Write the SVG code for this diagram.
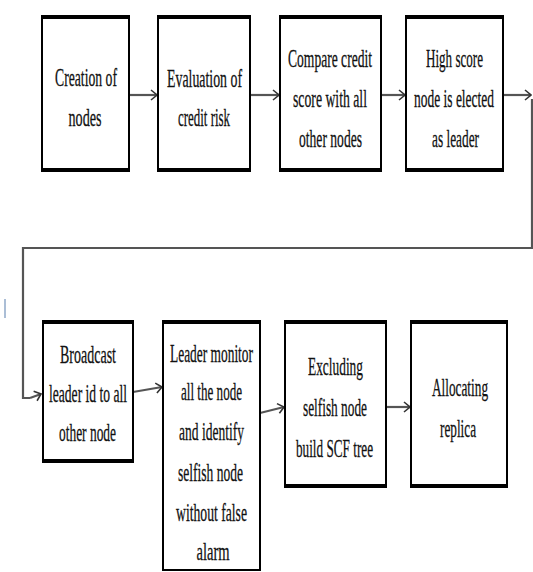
<svg xmlns="http://www.w3.org/2000/svg" width="533" height="572" viewBox="0 0 533 572">
<defs>
<marker id="ah" markerWidth="8" markerHeight="12" refX="7" refY="6" orient="auto" markerUnits="userSpaceOnUse">
<path d="M1,1 L7,6 L1,11" fill="none" stroke="#333" stroke-width="1.6"/>
</marker>
<style>
.box{fill:#fff;stroke:#000;stroke-width:2}
.edge{fill:#000}
.t{font-family:"Liberation Serif","Times New Roman",serif;font-size:26px;fill:#111;text-anchor:middle;stroke:#111;stroke-width:0.3}
.c{fill:none;stroke:#555;stroke-width:2.2}
</style>
</defs>
<rect width="533" height="572" fill="#fff"/>
<line x1="5" y1="299" x2="5" y2="318" stroke="#8fa9c8" stroke-width="1.5"/>
<g id="connectors">
<line class="c" x1="129" y1="95" x2="157" y2="95" marker-end="url(#ah)"/>
<line class="c" x1="250" y1="95" x2="279" y2="95" marker-end="url(#ah)"/>
<line class="c" x1="381" y1="95" x2="405" y2="95" marker-end="url(#ah)"/>
<line class="c" x1="503" y1="95" x2="531" y2="95" marker-end="url(#ah)"/>
<polyline class="c" points="532,99 532,248 23,248 23,398 30,398"/>
<line class="c" x1="30" y1="398" x2="41" y2="394" marker-end="url(#ah)"/>
<line class="c" x1="133" y1="392" x2="162" y2="387" marker-end="url(#ah)"/>
<line class="c" x1="260" y1="413" x2="284" y2="407" marker-end="url(#ah)"/>
<line class="c" x1="386" y1="407" x2="410" y2="407" marker-end="url(#ah)"/>
</g>
<g id="n1">
<rect class="box" x="42" y="17" width="87" height="154"/>
<rect class="edge" x="41" y="15" width="89" height="4"/>
<rect class="edge" x="41" y="168" width="89" height="4"/>
<text class="t" transform="translate(86,86) scale(0.58,1)" textLength="106.9" lengthAdjust="spacingAndGlyphs">Creation of</text>
<text class="t" transform="translate(85,126) scale(0.58,1)" textLength="56.9" lengthAdjust="spacingAndGlyphs">nodes</text>
</g>
<g id="n2">
<rect class="box" x="158" y="17" width="92" height="154"/>
<rect class="edge" x="157" y="15" width="94" height="4"/>
<rect class="edge" x="157" y="168" width="94" height="4"/>
<text class="t" transform="translate(204.5,87) scale(0.58,1)" textLength="129.3" lengthAdjust="spacingAndGlyphs">Evaluation of</text>
<text class="t" transform="translate(204,126) scale(0.58,1)" textLength="89.7" lengthAdjust="spacingAndGlyphs">credit risk</text>
</g>
<g id="n3">
<rect class="box" x="280" y="17" width="101" height="154"/>
<rect class="edge" x="279" y="15" width="103" height="4"/>
<rect class="edge" x="279" y="168" width="103" height="4"/>
<text class="t" transform="translate(330,67) scale(0.58,1)" textLength="144.8" lengthAdjust="spacingAndGlyphs">Compare credit</text>
<text class="t" transform="translate(330,107) scale(0.58,1)" textLength="127.6" lengthAdjust="spacingAndGlyphs">score with all</text>
<text class="t" transform="translate(330.5,147) scale(0.58,1)" textLength="108.6" lengthAdjust="spacingAndGlyphs">other nodes</text>
</g>
<g id="n4">
<rect class="box" x="406" y="17" width="97" height="154"/>
<rect class="edge" x="405" y="15" width="99" height="4"/>
<rect class="edge" x="405" y="168" width="99" height="4"/>
<text class="t" transform="translate(454.5,67) scale(0.58,1)" textLength="98.3" lengthAdjust="spacingAndGlyphs">High score</text>
<text class="t" transform="translate(454,107) scale(0.58,1)" textLength="137.9" lengthAdjust="spacingAndGlyphs">node is elected</text>
<text class="t" transform="translate(455.5,147) scale(0.58,1)" textLength="81" lengthAdjust="spacingAndGlyphs">as leader</text>
</g>
<g id="n5">
<rect class="box" x="43" y="322" width="90" height="139"/>
<rect class="edge" x="42" y="320" width="92" height="4"/>
<rect class="edge" x="42" y="459" width="92" height="4"/>
<text class="t" transform="translate(88,363) scale(0.58,1)" textLength="96.6" lengthAdjust="spacingAndGlyphs">Broadcast</text>
<text class="t" transform="translate(88,402) scale(0.58,1)" textLength="134.5" lengthAdjust="spacingAndGlyphs">leader id to all</text>
<text class="t" transform="translate(87.5,441) scale(0.58,1)" textLength="98.3" lengthAdjust="spacingAndGlyphs">other node</text>
</g>
<g id="n6">
<rect class="box" x="163" y="322" width="97" height="248"/>
<rect class="edge" x="162" y="320" width="99" height="4"/>
<text class="t" transform="translate(211.5,362) scale(0.58,1)" textLength="143.1" lengthAdjust="spacingAndGlyphs">Leader monitor</text>
<text class="t" transform="translate(211.5,400) scale(0.58,1)" textLength="105.2" lengthAdjust="spacingAndGlyphs">all the node</text>
<text class="t" transform="translate(211.5,440) scale(0.58,1)" textLength="112.1" lengthAdjust="spacingAndGlyphs">and identify</text>
<text class="t" transform="translate(210.5,481) scale(0.58,1)" textLength="112.1" lengthAdjust="spacingAndGlyphs">selfish node</text>
<text class="t" transform="translate(211.5,521) scale(0.58,1)" textLength="122.4" lengthAdjust="spacingAndGlyphs">without false</text>
<text class="t" transform="translate(213,560) scale(0.58,1)" textLength="56.9" lengthAdjust="spacingAndGlyphs">alarm</text>
</g>
<g id="n7">
<rect class="box" x="285" y="322" width="101" height="164"/>
<rect class="edge" x="284" y="320" width="103" height="4"/>
<rect class="edge" x="284" y="484" width="103" height="4"/>
<text class="t" transform="translate(335.5,375) scale(0.58,1)" textLength="94.8" lengthAdjust="spacingAndGlyphs">Excluding</text>
<text class="t" transform="translate(335,416) scale(0.58,1)" textLength="110.3" lengthAdjust="spacingAndGlyphs">selfish node</text>
<text class="t" transform="translate(334.5,457) scale(0.58,1)" textLength="132.8" lengthAdjust="spacingAndGlyphs">build SCF tree</text>
</g>
<g id="n8">
<rect class="box" x="411" y="322" width="96" height="164"/>
<rect class="edge" x="410" y="320" width="98" height="4"/>
<rect class="edge" x="410" y="484" width="98" height="4"/>
<text class="t" transform="translate(460,396) scale(0.58,1)" textLength="96.6" lengthAdjust="spacingAndGlyphs">Allocating</text>
<text class="t" transform="translate(458,437) scale(0.58,1)" textLength="62.1" lengthAdjust="spacingAndGlyphs">replica</text>
</g>
</svg>
